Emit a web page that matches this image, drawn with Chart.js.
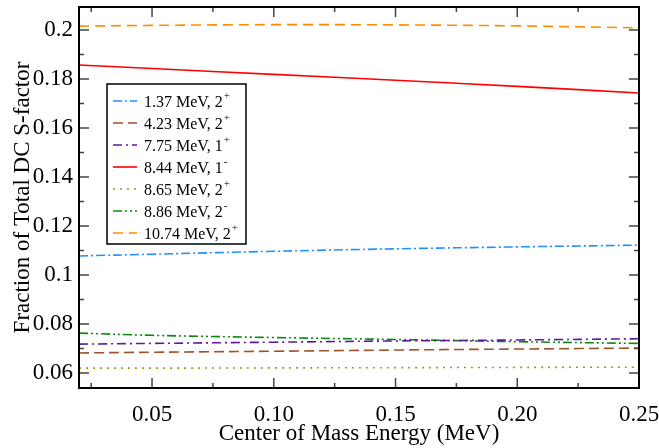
<!DOCTYPE html>
<html>
<head>
<meta charset="utf-8">
<script src="https://cdn.jsdelivr.net/npm/chart.js@4.4.1/dist/chart.umd.min.js"></script>
<style>
  html, body { margin: 0; padding: 0; background: #fff; }
  #wrap { width: 659px; height: 448px; }
</style>
</head>
<body>
<div id="wrap"><canvas id="chart" width="659" height="448"></canvas></div>
<script>
const energies = [0.02, 0.05, 0.10, 0.15, 0.20, 0.25];

const s137 = [0.1078, 0.1085, 0.1097, 0.1107, 0.1115, 0.1122];
const s423 = [0.0682, 0.0685, 0.0689, 0.0694, 0.0698, 0.0702];
const s775 = [0.0718, 0.0721, 0.0726, 0.0731, 0.0735, 0.0740];
const s844 = [0.1857, 0.1843, 0.1819, 0.1795, 0.1770, 0.1743];
const s865 = [0.0620, 0.0620, 0.0621, 0.0622, 0.0623, 0.0624];
const s886 = [0.0763, 0.0754, 0.0745, 0.0737, 0.0728, 0.0721];
const s1074 = [0.2016, 0.2019, 0.2022, 0.2021, 0.2017, 0.2009];

const labels = ['1.37 MeV, 2', '4.23 MeV, 2', '7.75 MeV, 1', '8.44 MeV, 1', '8.65 MeV, 2', '8.86 MeV, 2', '10.74 MeV, 2'];
const parities = ['+', '+', '+', '-', '+', '-', '+'];
const colors = ['#1e90ff', '#a0522d', '#5a1a9e', '#ff0000', '#9a9a1e', '#0a8a0a', '#ff8c00'];
const dashes = [[9, 3, 2, 3], [10, 5], [9, 4, 2, 4], [], [2, 5], [9, 3, 2, 3, 2, 3], [10, 6]];
const series = [s137, s423, s775, s844, s865, s886, s1074];

const xTicks = [0.05, 0.10, 0.15, 0.20, 0.25];
const xMinor = [0.025, 0.075, 0.125, 0.175, 0.225];
const yTicks = [0.06, 0.08, 0.10, 0.12, 0.14, 0.16, 0.18, 0.20];
const yMinor = [0.07, 0.09, 0.11, 0.13, 0.15, 0.17, 0.19];

const serif = "'Liberation Serif', 'Times New Roman', serif";

const datasets = series.map((vals, i) => ({
  label: labels[i] + parities[i],
  data: vals.map((v, j) => ({ x: energies[j], y: v })),
  borderColor: colors[i],
  borderWidth: 1.6,
  borderDash: dashes[i],
  pointRadius: 0,
  showLine: true,
  tension: 0.4,
  fill: false,
}));

const framePlugin = {
  id: 'frame',
  afterDatasetsDraw(chart) {
    const ctx = chart.ctx;
    const a = chart.chartArea;
    const xs = chart.scales.x;
    const ys = chart.scales.y;
    ctx.save();
    ctx.strokeStyle = '#444';
    ctx.lineWidth = 1.5;
    ctx.beginPath();
    yTicks.forEach(v => {
      const p = ys.getPixelForValue(v);
      ctx.moveTo(a.left, p); ctx.lineTo(a.left + 10, p);
      ctx.moveTo(a.right, p); ctx.lineTo(a.right - 10, p);
    });
    yMinor.forEach(v => {
      const p = ys.getPixelForValue(v);
      ctx.moveTo(a.left, p); ctx.lineTo(a.left + 5, p);
      ctx.moveTo(a.right, p); ctx.lineTo(a.right - 5, p);
    });
    xTicks.forEach(v => {
      const p = xs.getPixelForValue(v);
      ctx.moveTo(p, a.bottom); ctx.lineTo(p, a.bottom - 10);
      ctx.moveTo(p, a.top); ctx.lineTo(p, a.top + 10);
    });
    xMinor.forEach(v => {
      const p = xs.getPixelForValue(v);
      ctx.moveTo(p, a.bottom); ctx.lineTo(p, a.bottom - 5);
      ctx.moveTo(p, a.top); ctx.lineTo(p, a.top + 5);
    });
    ctx.stroke();
    ctx.strokeStyle = '#000';
    ctx.lineWidth = 2;
    ctx.strokeRect(a.left, a.top, a.right - a.left, a.bottom - a.top);

    // legend box
    const bx = 107, by = 84, bw = 139, bh = 160;
    ctx.fillStyle = '#fff';
    ctx.fillRect(bx, by, bw, bh);
    ctx.lineWidth = 1.5;
    ctx.strokeStyle = '#000';
    ctx.strokeRect(bx, by, bw, bh);
    labels.forEach((t, i) => {
      const y = 101 + i * 22;
      ctx.beginPath();
      ctx.strokeStyle = colors[i];
      ctx.lineWidth = 1.6;
      ctx.setLineDash(dashes[i]);
      ctx.moveTo(113, y); ctx.lineTo(137, y);
      ctx.stroke();
      ctx.setLineDash([]);
      ctx.fillStyle = '#000';
      ctx.font = '16px ' + serif;
      ctx.textBaseline = 'middle';
      ctx.textAlign = 'left';
      ctx.fillText(t, 144, y + 2);
      const w = ctx.measureText(t).width;
      ctx.font = '11px ' + serif;
      ctx.fillText(parities[i], 144 + w + 1, y - 5);
    });
    ctx.restore();
  }
};

new Chart(document.getElementById('chart'), {
  type: 'scatter',
  data: { datasets },
  options: {
    responsive: false,
    animation: false,
    layout: { padding: { top: 7, right: 20, left: 9, bottom: 0 } },
    plugins: { legend: { display: false }, tooltip: { enabled: false } },
    scales: {
      x: {
        type: 'linear',
        min: 0.02,
        max: 0.25,
        grid: { display: false },
        border: { display: false },
        afterBuildTicks: s => { s.ticks = xTicks.map(v => ({ value: v })); },
        afterFit: s => { s.height = 60; s.paddingLeft = 0; s.paddingRight = 0; },
        ticks: {
          color: '#000',
          padding: 5,
          maxRotation: 0,
          font: { family: serif, size: 23 },
          callback: v => v.toFixed(2),
        },
        title: {
          display: true,
          text: 'Center of Mass Energy (MeV)',
          color: '#000',
          padding: { top: -6, bottom: 0 },
          font: { family: serif, size: 23 },
        },
      },
      y: {
        type: 'linear',
        min: 0.0539,
        max: 0.2094,
        grid: { display: false, tickLength: 0 },
        border: { display: false },
        afterBuildTicks: s => { s.ticks = yTicks.map(v => ({ value: v })); },
        afterFit: s => { s.width = 70; s.paddingTop = 0; s.paddingBottom = 0; },
        ticks: {
          color: '#000',
          padding: 6,
          font: { family: serif, size: 23 },
          callback: v => String(+v.toFixed(2)),
        },
        title: {
          display: true,
          text: 'Fraction of Total DC S-factor',
          color: '#000',
          padding: { top: 0, bottom: 0 },
          font: { family: serif, size: 23 },
        },
      },
    },
  },
  plugins: [framePlugin],
});
</script>
</body>
</html>
